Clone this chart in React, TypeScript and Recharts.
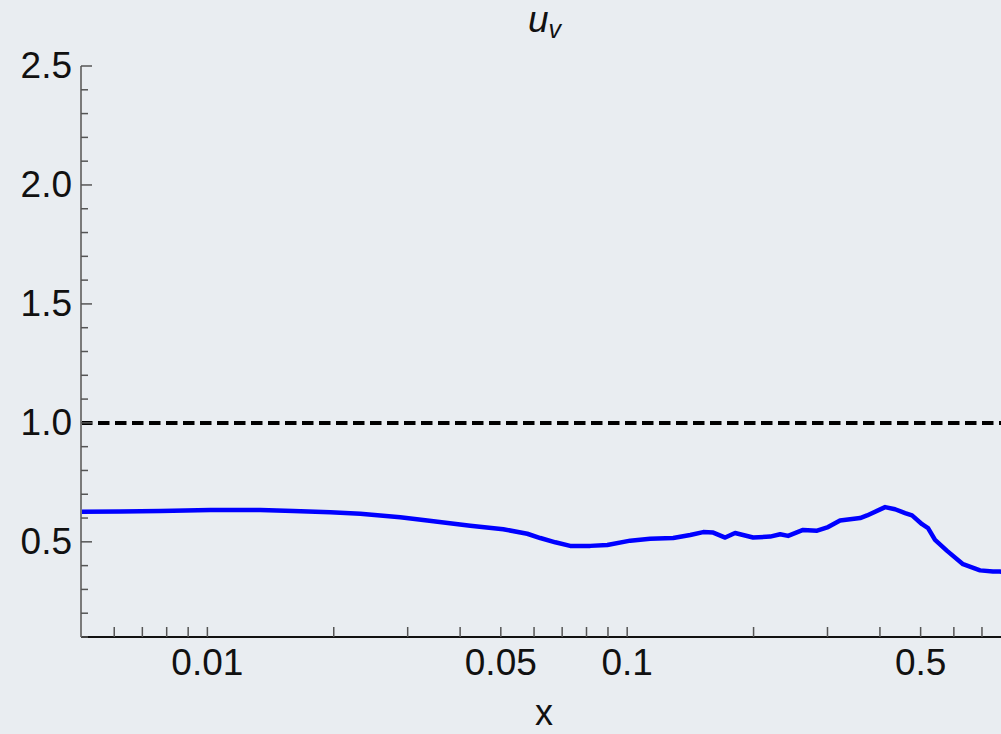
import React from 'react';
import { LineChart, Line, XAxis, YAxis, ReferenceLine } from 'recharts';

// x positions (log axis) and u_v values
const X_VALUES = [
  0.005, 0.00621, 0.00773, 0.01017, 0.01337, 0.01602, 0.01963, 0.02314, 0.0288, 0.03341,
  0.04229, 0.05068, 0.05781, 0.06208, 0.06741, 0.07315, 0.08167, 0.08966, 0.1017, 0.1134,
  0.1287, 0.1413, 0.1517, 0.1603, 0.1712, 0.1807, 0.1995, 0.2191, 0.2314, 0.2417,
  0.2624, 0.2834, 0.301, 0.3214, 0.3588, 0.3727, 0.4115, 0.4346, 0.4592, 0.477,
  0.504, 0.5208, 0.5411, 0.5781, 0.631, 0.6927, 0.7436, 0.7725, 0.8,
];
const U_V = [
  0.626, 0.628, 0.63, 0.634, 0.634, 0.63, 0.624, 0.618, 0.603, 0.59,
  0.568, 0.553, 0.534, 0.516, 0.498, 0.483, 0.483, 0.487, 0.505, 0.513,
  0.516, 0.529, 0.541, 0.539, 0.518, 0.537, 0.518, 0.522, 0.532, 0.525,
  0.55, 0.547, 0.562, 0.59, 0.6, 0.611, 0.646, 0.637, 0.621, 0.611,
  0.574, 0.558, 0.508, 0.462, 0.406, 0.38, 0.375, 0.375, 0.37,
];

const REF_LEVEL = 1;

const X_TICKS = [
  0.006, 0.007, 0.008, 0.009, 0.01, 0.02, 0.03, 0.04, 0.05, 0.06, 0.07, 0.08, 0.09,
  0.1, 0.2, 0.3, 0.4, 0.5, 0.6, 0.7, 0.8, 0.9,
];
const X_LABELS = [0.01, 0.05, 0.1, 0.5];
const Y_TICKS = [
  0.1, 0.2, 0.3, 0.4, 0.5, 0.6, 0.7, 0.8, 0.9, 1.0, 1.1, 1.2, 1.3, 1.4, 1.5,
  1.6, 1.7, 1.8, 1.9, 2.0, 2.1, 2.2, 2.3, 2.4, 2.5,
];
const Y_LABELS = [0.5, 1.0, 1.5, 2.0, 2.5];

const FONT = '"Liberation Sans", Arial, Helvetica, sans-serif';
const TICK_COLOR = '#555';

const data = X_VALUES.map((x, i) => ({ x, u: U_V[i] }));

function BottomTick({ x, y, payload }: any) {
  const v = payload.value;
  return (
    <g>
      <line x1={x} x2={x} y1={y} y2={y - 10} stroke={TICK_COLOR} strokeWidth={1.5} />
      {X_LABELS.includes(v) && (
        <text x={x} y={y + 38} textAnchor="middle" fontFamily={FONT} fontSize={37} fill="#111">
          {String(v)}
        </text>
      )}
    </g>
  );
}

function TopTick({ x, y }: any) {
  return <line x1={x} x2={x} y1={y} y2={y + 10} stroke={TICK_COLOR} strokeWidth={1.5} />;
}

function LeftTick({ x, y, payload }: any) {
  const v = payload.value;
  const major = Y_LABELS.includes(v);
  return (
    <g>
      <line x1={x} x2={x + (major ? 11 : 7)} y1={y} y2={y} stroke={TICK_COLOR} strokeWidth={1.5} />
      {major && (
        <text x={x - 9} y={y + 12} textAnchor="end" fontFamily={FONT} fontSize={37} fill="#111">
          {v.toFixed(1)}
        </text>
      )}
    </g>
  );
}

export default function App() {
  return (
    <div
      style={{
        position: 'absolute',
        left: 0,
        top: 0,
        width: 1001,
        height: 734,
        overflow: 'hidden',
        background: '#e9edf1',
      }}
    >
      <LineChart
        width={1100}
        height={734}
        data={data}
        margin={{ top: 66, right: 53, bottom: 0, left: 1 }}
      >
        <XAxis
          dataKey="x"
          type="number"
          scale="log"
          domain={[0.005, 1]}
          allowDataOverflow
          ticks={X_TICKS}
          interval={0}
          height={97}
          tickSize={0}
          tickMargin={0}
          tickLine={false}
          axisLine={{ stroke: '#111', strokeWidth: 2 }}
          tick={(p: any) => <BottomTick {...p} />}
        />
        <XAxis
          xAxisId="top"
          orientation="top"
          dataKey="x"
          type="number"
          scale="log"
          domain={[0.005, 1]}
          allowDataOverflow
          ticks={X_TICKS}
          interval={0}
          height={0}
          tickSize={0}
          tickMargin={0}
          tickLine={false}
          axisLine={{ stroke: '#666', strokeWidth: 1.5 }}
          tick={(p: any) => <TopTick {...p} />}
        />
        <YAxis
          type="number"
          domain={[0.1, 2.5]}
          allowDataOverflow
          ticks={Y_TICKS}
          interval={0}
          width={80}
          tickSize={0}
          tickMargin={0}
          tickLine={false}
          axisLine={{ stroke: '#7a7a7a', strokeWidth: 2 }}
          tick={(p: any) => <LeftTick {...p} />}
        />
        <ReferenceLine
          y={REF_LEVEL}
          stroke="#000"
          strokeWidth={4}
          strokeDasharray="11.5 5.5"
          ifOverflow="hidden"
        />
        <Line
          dataKey="u"
          type="linear"
          stroke="#0000ff"
          strokeWidth={4.5}
          strokeLinejoin="round"
          strokeLinecap="round"
          dot={false}
          activeDot={false}
          isAnimationActive={false}
        />
      </LineChart>
      <svg
        width={1001}
        height={734}
        style={{ position: 'absolute', left: 0, top: 0, pointerEvents: 'none' }}
      >
        <text x={528} y={32} fontFamily={FONT} fontStyle="italic" fontSize={37} fill="#111">
          u
          <tspan fontSize={25} dy={6}>v</tspan>
        </text>
        <text x={544} y={725} textAnchor="middle" fontFamily={FONT} fontSize={36} fill="#111">
          x
        </text>
      </svg>
    </div>
  );
}
